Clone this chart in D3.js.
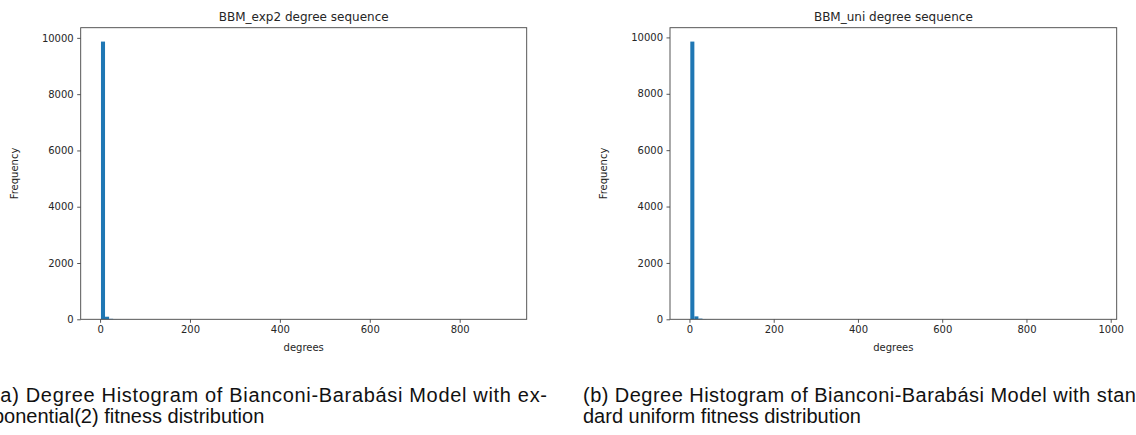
<!DOCTYPE html>
<html>
<head>
<meta charset="utf-8">
<script src="https://cdn.jsdelivr.net/npm/d3@7"></script>
<style>
  body { margin: 0; background: #fff; }
  svg { display: block; }
  .axis text { font-family: "DejaVu Sans", sans-serif; font-size: 10px; fill: #262626; }
  .axis path, .axis line { stroke: #444; stroke-width: 0.9; }
  .title { font-family: "DejaVu Sans", sans-serif; font-size: 12px; fill: #262626; }
  .label { font-family: "DejaVu Sans", sans-serif; font-size: 10px; fill: #262626; }
  .caption { font-family: "Liberation Sans", Arial, sans-serif; font-size: 20px; fill: #111; }
</style>
</head>
<body>
<svg width="1136" height="435"></svg>
<script>
// histogram of degrees, 100 bins each
const exp2Range = [2, 904];
const exp2Counts = [
  9868, 92, 17, 6, 4, 2, 2, 1, 1, 0,
  1, 0, 0, 1, 0, 0, 0, 0, 1, 0,
  0, 0, 0, 0, 0, 0, 0, 0, 0, 0,
  0, 0, 0, 0, 0, 0, 0, 0, 0, 0,
  0, 0, 0, 0, 0, 0, 0, 0, 0, 0,
  0, 0, 0, 0, 0, 0, 0, 0, 0, 0,
  0, 0, 0, 0, 0, 0, 0, 0, 0, 0,
  0, 0, 0, 0, 0, 0, 0, 0, 0, 0,
  0, 0, 0, 0, 0, 0, 0, 0, 0, 0,
  0, 0, 0, 0, 0, 0, 0, 0, 0, 1
];

const uniRange = [2, 966];
const uniCounts = [
  9852, 104, 24, 8, 4, 2, 1, 1, 1, 0,
  1, 0, 0, 0, 1, 0, 0, 0, 0, 0,
  0, 0, 0, 0, 0, 0, 0, 0, 0, 0,
  0, 0, 0, 0, 0, 0, 0, 0, 0, 0,
  0, 0, 0, 0, 0, 0, 0, 0, 0, 0,
  0, 0, 0, 0, 0, 0, 0, 0, 0, 0,
  0, 0, 0, 0, 0, 0, 0, 0, 0, 0,
  0, 0, 0, 0, 0, 0, 0, 0, 0, 0,
  0, 0, 0, 0, 0, 0, 0, 0, 0, 0,
  0, 0, 0, 0, 0, 0, 0, 0, 0, 1
];

const exp2Ticks = [0, 200, 400, 600, 800];
const uniTicks = [0, 200, 400, 600, 800, 1000];
const yTicks = [0, 2000, 4000, 6000, 8000, 10000];

const captionA = ["(a) Degree Histogram of Bianconi-Barabási Model with ex-", "ponential(2) fitness distribution"];
const captionB = ["(b) Degree Histogram of Bianconi-Barabási Model with stan-", "dard uniform fitness distribution"];

const svg = d3.select("svg");
const fmt = d3.format("d");

function drawHist(opts) {
  const { left, right, top, bottom, range, counts, ticks, title } = opts;
  const n = counts.length;
  const step = (range[1] - range[0]) / n;
  const bins = counts.map((c, i) => ({ x0: range[0] + i * step, x1: range[0] + (i + 1) * step, count: c }));

  // matplotlib style 5% margins
  const span = range[1] - range[0];
  const x = d3.scaleLinear()
    .domain([range[0] - 0.05 * span, range[1] + 0.05 * span])
    .range([left, right]);
  const y = d3.scaleLinear()
    .domain([0, d3.max(counts) * 1.05])
    .range([bottom, top]);

  const g = svg.append("g");

  g.selectAll(".bar")
    .data(bins)
    .enter()
    .append("rect")
    .attr("class", "bar")
    .attr("x", d => x(d.x0))
    .attr("y", d => y(d.count))
    .attr("width", d => x(d.x1) - x(d.x0))
    .attr("height", d => bottom - y(d.count))
    .attr("fill", "#1f77b4");

  g.append("g")
    .attr("class", "axis")
    .attr("transform", "translate(0," + bottom + ")")
    .call(d3.axisBottom(x).tickValues(ticks).tickFormat(fmt).tickSize(3.5).tickPadding(3.5).tickSizeOuter(0))
    .call(a => a.select(".domain").remove());

  g.append("g")
    .attr("class", "axis")
    .attr("transform", "translate(" + left + ",0)")
    .call(d3.axisLeft(y).tickValues(yTicks).tickFormat(fmt).tickSize(3.5).tickPadding(3.5).tickSizeOuter(0))
    .call(a => a.select(".domain").remove());

  // frame
  g.append("rect")
    .attr("x", left)
    .attr("y", top)
    .attr("width", right - left)
    .attr("height", bottom - top)
    .attr("fill", "none")
    .attr("stroke", "#444")
    .attr("stroke-width", 0.9);

  g.append("text")
    .attr("class", "title")
    .attr("x", (left + right) / 2)
    .attr("y", top - 7)
    .attr("text-anchor", "middle")
    .text(title);

  g.append("text")
    .attr("class", "label")
    .attr("x", (left + right) / 2)
    .attr("y", bottom + 32)
    .attr("text-anchor", "middle")
    .text("degrees");

  g.append("text")
    .attr("class", "label")
    .attr("transform", "translate(" + (left - 63) + "," + ((top + bottom) / 2) + ") rotate(-90)")
    .attr("text-anchor", "middle")
    .text("Frequency");
}

drawHist({ left: 80.7, right: 526.7, top: 27.7, bottom: 319.3,
  range: exp2Range, counts: exp2Counts, ticks: exp2Ticks, title: "BBM_exp2 degree sequence" });
drawHist({ left: 670, right: 1116.7, top: 27.7, bottom: 319.3,
  range: uniRange, counts: uniCounts, ticks: uniTicks, title: "BBM_uni degree sequence" });

function caption(x0, lines, width) {
  const t = svg.append("text").attr("class", "caption");
  t.append("tspan").attr("x", x0).attr("y", 401.5)
    .attr("textLength", width).attr("lengthAdjust", "spacing").text(lines[0]);
  t.append("tspan").attr("x", x0).attr("y", 423).text(lines[1]);
}
caption(-7, captionA, 554);
caption(583, captionB, 560);
</script>
</body>
</html>
